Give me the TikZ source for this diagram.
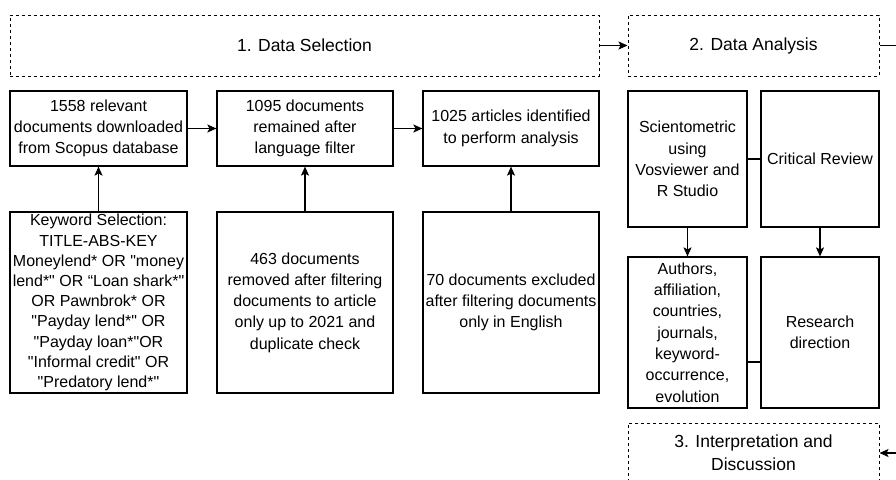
\documentclass[tikz,border=0pt]{standalone}
\usepackage{fontspec}
\setmainfont{Liberation Sans}[Ligatures=TeXOff]
\usetikzlibrary{arrows.meta}

\begin{document}
\begin{tikzpicture}[x=1pt,y=-1pt,line width=1.2pt,
  font=\fontsize{16}{21.3}\selectfont,
  box/.style={draw,inner sep=0pt,align=center,minimum width=#1},
  hbox/.style={draw,dash pattern=on 3pt off 3pt,line width=1pt,inner sep=0pt,align=center,minimum width=#1,minimum height=61pt,font=\fontsize{17.5}{23}\selectfont},
  arr/.style={-{Stealth[length=9pt,width=8pt,inset=2pt]}}]
\useasboundingbox (0,0) rectangle (896,479);
% stages
 \node[hbox=589] (h1) at (304.5,45.5) {1. Data Selection};
 \node[hbox=251] (h2) at (753.5,45.5) {2. Data Analysis};
 \node[hbox=251,minimum height=60pt] (h3) at (753.5,453) {3. Interpretation and\\Discussion};
 \coordinate (k1) at (905,45.5);
 \coordinate (k2) at (905,453);
 \draw[arr] (h1) -- (h2);
 \draw[arr] (h2.east) -- (k1) -- (k2) -- (h3.east);
% selection
 \node[box=177,minimum height=75pt] (a1) at (98.5,128.5) {1558 relevant\\documents downloaded\\from Scopus database};
 \node[box=176,minimum height=75pt] (a2) at (305,128.5) {1095 documents\\remained after\\language filter};
 \node[box=176,minimum height=75pt] (a3) at (511,128.5) {1025 articles identified\\to perform analysis};
 \node[box=177,minimum height=181pt,font=\fontsize{16}{20.2}\selectfont] (b1) at (98.5,302.5) {Keyword Selection:\\TITLE-ABS-KEY\\Moneylend* OR "money\\lend*" OR “Loan shark*"\\OR Pawnbrok* OR\\"Payday lend*" OR\\"Payday loan*"OR\\"Informal credit" OR\\"Predatory lend*"};
 \node[box=176,minimum height=181pt] (b2) at (305,302.5) {463 documents\\removed after filtering\\documents to article\\only up to 2021 and\\duplicate check};
 \node[box=176,minimum height=181pt] (b3) at (511,302.5) {70 documents excluded\\after filtering documents\\only in English};
 \draw[arr] (a1) -- (a2);
 \draw[arr] (a2) -- (a3);
 \draw[arr] (b1) -- (a1);
 \draw[arr] (b2) -- (a2);
 \draw[arr] (b3) -- (a3);
% analysis
 \node[box=119,minimum height=136pt] (c1) at (687.5,159) {Scientometric\\using\\Vosviewer and\\R Studio};
 \node[box=118,minimum height=136pt] (c2) at (820,159) {Critical Review};
 \node[box=119,minimum height=151pt] (d1) at (687.5,332.5) {Authors,\\affiliation,\\countries,\\journals,\\keyword-\\occurrence,\\evolution};
 \node[box=118,minimum height=151pt] (d2) at (820,332.5) {Research\\direction};
 \draw (c1) -- (c2);
 \draw (d1.east |- 0,362) -- (d2.west |- 0,362);
 \draw[arr] (c1) -- (d1);
 \draw[arr] (c2) -- (d2);
\end{tikzpicture}
\end{document}
